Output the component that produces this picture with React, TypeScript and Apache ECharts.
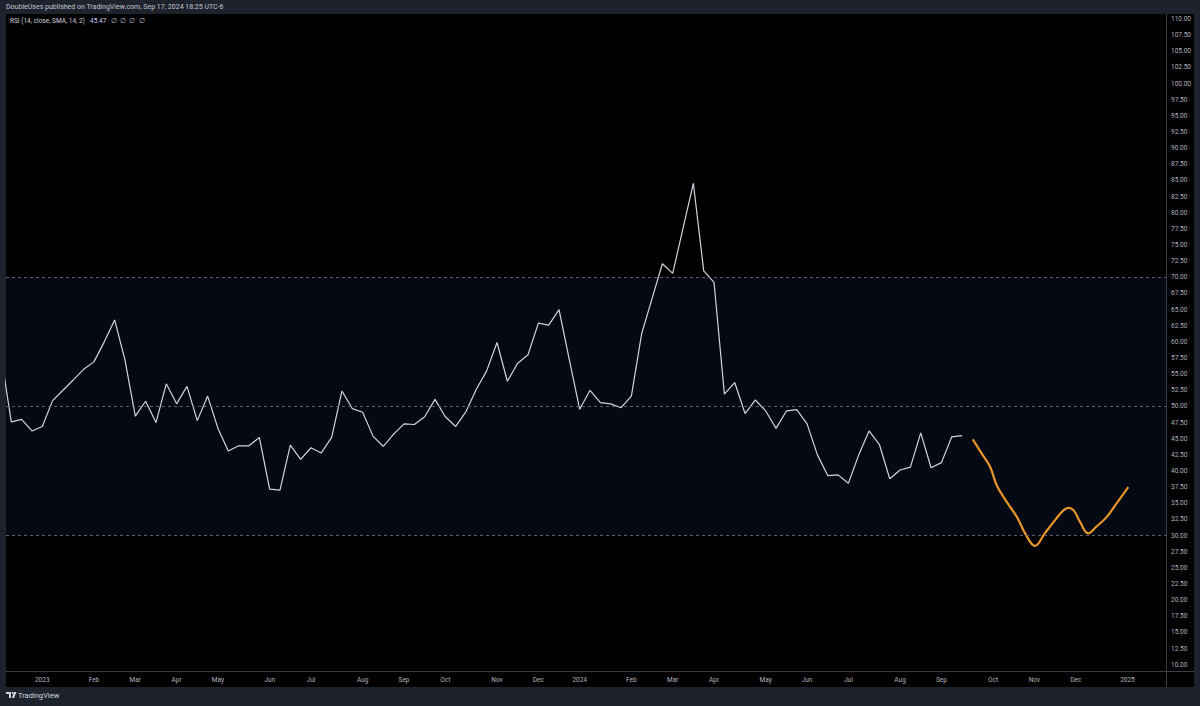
import React, { useEffect, useRef } from "react";
import * as echarts from "echarts";

// Weekly RSI(14) values; index 0 = week of 2 Jan 2023, first value is index -4
const rsiStartIndex = -4;
const rsiValues = [
  58.0, 47.6, 48.0, 46.2,
  46.9, 50.9, 52.5, 54.1, 55.75, 56.9, 60.0, 63.4, 57.2, 48.5,
  50.8, 47.5, 53.5, 50.4, 53.1, 47.8, 51.6, 46.6, 43.1, 43.9,
  43.9, 45.2, 37.2, 37.05, 44.0, 41.8, 43.6, 42.8, 45.2, 52.4,
  49.65, 49.1, 45.4, 43.8, 45.7, 47.3, 47.2, 48.4, 51.1, 48.4,
  46.9, 49.2, 52.65, 55.5, 59.9, 53.9, 56.7, 58.0, 62.9, 62.6,
  65.0, 57.2, 49.55, 52.5, 50.6, 50.4, 49.8, 51.6, 61.3, 66.7,
  72.1, 70.6, 77.6, 84.55, 71.0, 69.2, 51.9, 53.7, 48.9, 51.0,
  49.3, 46.6, 49.3, 49.5, 47.3, 42.5, 39.3, 39.4, 38.1, 42.5,
  46.2, 44.1, 38.8, 40.15, 40.6, 45.9, 40.5, 41.3, 45.3, 45.47,
];

// Hand-drawn projection (orange), positions in weekly index units
const projIndex = [90.03, 90.9, 91.7, 92.35, 93.3, 94.3, 95.1, 96.05, 97.0, 98.0, 98.8, 99.3, 99.8, 100.4, 101.2, 102.0, 103.0, 103.95, 105.08];
const projValues = [44.9, 42.7, 40.7, 37.8, 35.25, 32.9, 30.35, 28.4, 30.35, 32.4, 33.9, 34.3, 33.9, 32.15, 30.35, 31.4, 32.9, 35.0, 37.5];

// Time axis tick labels (weekly index of first week in each month)
const monthTickIndex = [0, 5, 9, 13, 17, 22, 26, 31, 35, 39, 44, 48, 52, 57, 61, 65, 70, 74, 78, 83, 87, 92, 96, 100, 105];
const monthTickLabels = ["2023", "Feb", "Mar", "Apr", "May", "Jun", "Jul", "Aug", "Sep", "Oct", "Nov", "Dec", "2024", "Feb", "Mar", "Apr", "May", "Jun", "Jul", "Aug", "Sep", "Oct", "Nov", "Dec", "2025"];

// Price scale labels
const yTickValues = [
  10, 12.5, 15, 17.5, 20, 22.5, 25, 27.5, 30, 32.5, 35, 37.5, 40, 42.5, 45, 47.5, 50, 52.5, 55, 57.5,
  60, 62.5, 65, 67.5, 70, 72.5, 75, 77.5, 80, 82.5, 85, 87.5, 90, 92.5, 95, 97.5, 100, 102.5, 105, 107.5, 110,
];

const bandLevels = [30, 50, 70];

const FONT = "Roboto, 'Noto Sans', sans-serif";

export default function App() {
  const ref = useRef<HTMLDivElement>(null);
  useEffect(() => {
    if (!ref.current) return;
    const chart = echarts.init(ref.current, null, { renderer: "svg" });
    const rsiData = rsiValues.map((v, k) => [rsiStartIndex + k, v]);
    const projData = projValues.map((v, k) => [projIndex[k], v]);
    const option: any = {
      animation: false,
      backgroundColor: "#1e222d",
      grid: { left: 6, right: 34, top: 14, bottom: 35, containLabel: false },
      xAxis: {
        type: "value",
        min: -3.51,
        max: 108.73,
        axisLine: { show: false },
        axisTick: { show: false },
        splitLine: { show: false },
        axisLabel: {
          customValues: monthTickIndex,
          formatter: (val: number) => {
            const k = monthTickIndex.findIndex((m) => Math.abs(m - val) < 1e-6);
            return k >= 0 ? monthTickLabels[k] : "";
          },
          color: "#b2b5be",
          fontSize: 6.5,
          fontFamily: FONT,
          margin: 5,
        },
      },
      yAxis: {
        type: "value",
        position: "right",
        min: 9.03,
        max: 110.77,
        axisLine: { show: false },
        axisTick: { show: false },
        splitLine: { show: false },
        axisLabel: {
          customValues: yTickValues,
          formatter: (v: number) => v.toFixed(2),
          color: "#b2b5be",
          fontSize: 6.5,
          fontFamily: FONT,
          margin: 5,
        },
      },
      series: [
        {
          type: "line",
          z: 1,
          data: [],
          silent: true,
          markArea: {
            silent: true,
            itemStyle: { color: "#050914" },
            data: [[{ yAxis: bandLevels[0] }, { yAxis: bandLevels[2] }]],
          },
          markLine: {
            silent: true,
            symbol: "none",
            label: { show: false },
            lineStyle: { color: "#5d606b", type: [3, 3], width: 1 },
            data: bandLevels.map((l) => ({ yAxis: l })),
          },
        },
        {
          type: "line",
          z: 3,
          data: rsiData,
          showSymbol: false,
          lineStyle: { color: "#d1d4dc", width: 1.2 },
          silent: true,
        },
        {
          type: "line",
          z: 4,
          data: projData,
          smooth: 0.4,
          showSymbol: false,
          lineStyle: { color: "#e8952a", width: 2.2 },
          silent: true,
        },
      ],
      graphic: [
        { type: "rect", z: -5, shape: { x: 6, y: 14, width: 1188, height: 673 }, style: { fill: "#000000" } },
        { type: "line", z: 5, shape: { x1: 1166.5, y1: 14, x2: 1166.5, y2: 687 }, style: { stroke: "#3a3e49", lineWidth: 1 } },
        { type: "line", z: 5, shape: { x1: 6, y1: 671.5, x2: 1194, y2: 671.5 }, style: { stroke: "#3a3e49", lineWidth: 1 } },
        {
          type: "text", z: 5, x: 6, y: 7,
          style: { text: "DoubleUses published on TradingView.com, Sep 17, 2024 18:25 UTC-6", fill: "#c3c6ce", font: `7px ${FONT}`, verticalAlign: "middle" },
        },
        {
          type: "text", z: 5, x: 10, y: 21,
          style: { text: "RSI (14, close, SMA, 14, 2)", fill: "#d1d4dc", font: `6.5px ${FONT}`, verticalAlign: "middle" },
        },
        {
          type: "text", z: 5, x: 90, y: 21,
          style: { text: "45.47", fill: "#c9d3f0", font: `6.5px ${FONT}`, verticalAlign: "middle" },
        },
        {
          type: "text", z: 5, x: 111, y: 21,
          style: { text: "∅  ∅  ∅  ∅", fill: "#b2b5be", font: `6.5px ${FONT}`, verticalAlign: "middle" },
        },
        { type: "polygon", z: 5, shape: { points: [[6, 692], [11, 692], [11, 698], [9, 698], [9, 694], [6, 694]] }, style: { fill: "#d1d4dc" } },
        { type: "circle", z: 5, shape: { cx: 12.6, cy: 693, r: 1 }, style: { fill: "#d1d4dc" } },
        { type: "polygon", z: 5, shape: { points: [[14, 692], [16.5, 692], [14, 698], [11.8, 698]] }, style: { fill: "#d1d4dc" } },
        {
          type: "text", z: 5, x: 18, y: 695.5,
          style: { text: "TradingView", fill: "#d1d4dc", font: `7.5px ${FONT}`, verticalAlign: "middle" },
        },
      ],
    };
    chart.setOption(option);
    return () => chart.dispose();
  }, []);
  return <div ref={ref} style={{ position: "fixed", left: 0, top: 0, width: 1200, height: 706 }} />;
}
